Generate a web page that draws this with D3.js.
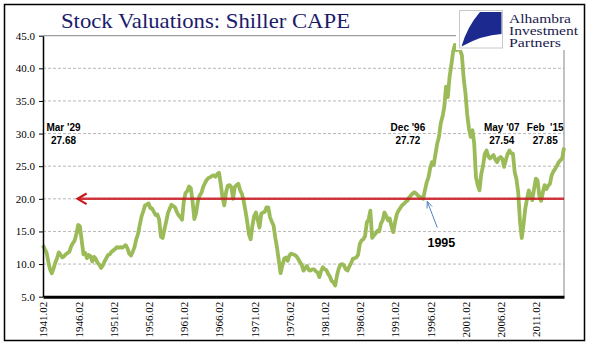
<!DOCTYPE html>
<html>
<head>
<meta charset="utf-8">
<script src="https://cdn.jsdelivr.net/npm/d3@7"></script>
<style>
  body { margin: 0; background: #fff; }
  svg { display: block; }
</style>
</head>
<body>
<svg id="chart"></svg>
<script>
const firstMonth = "1941.02";
const cape = [
  12.9, 12.3, 11.8, 10.4,  9.2, 8.6, 9.3, 10.2,  10.9, 11.8, 11.4, 11.0,  11.2, 11.5, 11.7, 11.9,
  12.7, 13.2, 13.6, 14.6,  16.0, 15.8, 13.6, 11.5,  11.7, 10.9, 11.4, 11.2,  10.4, 11.1, 10.8, 10.2,
  9.9, 9.4, 9.8, 10.4,  10.9, 11.4, 11.5, 11.9,  12.1, 12.3, 12.6, 12.5,  12.6, 12.5, 12.7, 12.9,
  12.4, 11.6, 11.3, 11.9,  12.6, 13.8, 14.6, 16.0,  17.3, 18.1, 19.0, 19.1,  19.3, 18.6, 18.5, 18.0,
  17.5, 17.6, 16.8, 14.2,  14.0, 15.3, 16.5, 17.8,  18.5, 19.1, 18.9, 18.7,  18.0, 17.5, 17.2, 16.8,
  19.6, 20.9, 21.2, 21.9,  21.6, 19.6, 16.9, 17.8,  19.6, 20.5, 20.9, 21.8,  22.4, 22.9, 23.2, 23.3,
  23.5, 23.6, 23.4, 23.8,  24.0, 22.3, 20.2, 19.0,  21.0, 22.0, 22.1, 21.8,  20.0, 21.8, 22.1, 22.3,
  21.3, 20.8, 19.7, 18.2,  16.5, 14.6, 13.8, 15.9,  17.4, 17.9, 16.8, 15.6,  17.7, 17.9, 18.0, 18.7,
  18.7, 17.2, 16.5, 15.9,  14.0, 12.5, 10.5, 8.6,  9.8, 10.8, 11.0, 10.5,  11.3, 11.6, 11.5, 11.4,
  11.2, 10.8, 10.3, 9.9,  9.0, 9.4, 9.7, 9.1,  9.0, 9.2, 9.2, 8.9,  8.7, 8.0, 8.9, 9.5,
  9.2, 9.1, 8.5, 8.1,  7.4, 7.2, 6.7, 8.2,  9.3, 9.9, 10.0, 9.8,  9.2, 9.0, 9.6, 10.1,
  10.8, 10.9, 11.0, 11.4,  13.1, 13.6, 13.8, 14.3,  16.4, 16.8, 18.2, 14.0,  14.4, 14.7, 15.1, 15.0,
  16.2, 16.7, 17.9, 17.4,  16.7, 17.0, 15.8, 14.9,  16.4, 17.6, 18.2, 18.6,  19.0, 19.2, 19.5, 19.7,
  20.2, 20.5, 20.8, 21.0,  20.8, 20.5, 20.3, 20.2,  20.0, 21.3, 22.5, 23.3,  24.7, 25.6, 25.2, 26.9,
  28.5, 29.5, 31.6, 32.6,  34.1, 37.2, 35.6, 38.7,  40.5, 42.5, 43.6, 42.8,  44.1, 42.8, 42.0, 38.5,
  36.2, 33.0, 30.8, 29.5,  30.5, 28.5, 23.3, 22.1,  21.3, 23.8, 25.0, 26.9,  27.4, 26.5, 26.2, 26.5,
  26.7, 26.0, 25.6, 26.2,  26.4, 26.1, 24.9, 26.0,  26.9, 27.4, 27.0, 26.9,  24.1, 23.0, 21.0, 16.5,
  14.0, 16.0, 18.5, 20.0,  21.3, 20.5, 19.8, 21.5,  23.1, 22.8, 20.5, 19.7,  21.0, 22.1, 21.5, 22.0,
  22.3, 23.6, 24.2, 24.6,  25.1, 25.6, 25.9, 26.2,  27.85
];

const tickLabels = ["1941.02", "1946.02", "1951.02", "1956.02", "1961.02", "1966.02", "1971.02",
                    "1976.02", "1981.02", "1986.02", "1991.02", "1996.02", "2001.02", "2006.02", "2011.02"];
const yTicks = [5, 10, 15, 20, 25, 30, 35, 40, 45];
const lastMonth = "2015.02";

// red reference level and where its arrow stops
const refLevel = 20;
const refArrowAt = "1946.01";

// peak notes: label, value, where the note sits
const peakNames = ["Mar '29", "Dec '96", "May '07", "Feb  '15"];
const peakValues = ["27.68", "27.72", "27.54", "27.85"];
const peakAt = ["1944.01", "1992.12", "2006.04", "2012.06"];
const peakLevel = 31;

// the 1995 callout
const calloutText = "1995";
const calloutAt = "1997.09", calloutLevel = 13.3;
const calloutTip = ["1995.09", 19.6];
const calloutTail = ["1997.02", 15.6];

const logoLines = ["Alhambra", "Investment", "Partners"];
const logoWidths = [62, 69, 52];

const toDate = s => { const [y, m] = s.split(".").map(Number); return new Date(y, m - 1, 1); };

const start = toDate(firstMonth);
const series = cape.map((v, i) => ({ date: d3.timeMonth.offset(start, i * 3), value: v }));

const W = 595, H = 361;
const svg = d3.select("#chart").attr("width", W).attr("height", H);

const x = d3.scaleTime().domain([start, toDate(lastMonth)]).range([43, 564]);
const y = d3.scaleLinear().domain([5, 45]).range([296.7, 35.7]);

// outer frame
svg.append("rect")
  .attr("x", 4.5).attr("y", 4.5).attr("width", 580).attr("height", 336)
  .attr("fill", "#fff").attr("stroke", "#000").attr("stroke-width", 1.5);

// gridlines
svg.append("g")
  .selectAll("line")
  .data(yTicks.filter(d => d > 5 && d < 45))
  .join("line")
    .attr("x1", x.range()[0]).attr("x2", x.range()[1])
    .attr("y1", d => y(d)).attr("y2", d => y(d))
    .attr("stroke", "#a6a6a6").attr("stroke-width", 0.8).attr("stroke-dasharray", "3,2");

// top and right plot edges
svg.append("path")
  .attr("d", `M${x.range()[0]},${y(45)}H${x.range()[1]}V${y(5)}`)
  .attr("fill", "none").attr("stroke", "#868686").attr("stroke-width", 1);

// CAPE line
const line = d3.line().x(d => x(d.date)).y(d => y(d.value));
svg.append("path")
  .datum(series)
  .attr("d", line)
  .attr("fill", "none")
  .attr("stroke", "#9bbb59")
  .attr("stroke-width", 3.8)
  .attr("stroke-linejoin", "round");

// red reference line with arrow head
const rx = x(toDate(refArrowAt)), ry = y(refLevel);
svg.append("line")
  .attr("x1", rx).attr("x2", x.range()[1]).attr("y1", ry).attr("y2", ry)
  .attr("stroke", "#c8161d").attr("stroke-width", 2.5).attr("stroke-opacity", 0.85);
svg.append("path")
  .attr("d", `M${rx + 9},${ry - 5.3}L${rx},${ry}L${rx + 9},${ry + 5.3}`)
  .attr("fill", "none").attr("stroke", "#c8161d").attr("stroke-width", 2.2);

// y axis
svg.append("g")
  .attr("transform", `translate(${x.range()[0]},0)`)
  .call(d3.axisLeft(y).tickValues(yTicks).tickFormat(d3.format(".1f")).tickSize(4).tickSizeOuter(0))
  .call(g => g.select(".domain").attr("stroke", "#000").attr("stroke-width", 1.5))
  .call(g => g.selectAll(".tick line").attr("stroke", "#000"))
  .call(g => g.selectAll("text")
    .attr("x", -8)
    .attr("font-family", "'Liberation Serif', serif")
    .attr("font-size", 11)
    .attr("fill", "#000"));

// x axis
svg.append("g")
  .attr("transform", `translate(0,${y(5)})`)
  .call(d3.axisBottom(x).tickValues(tickLabels.map(toDate)).tickFormat((d, i) => tickLabels[i]).tickSize(0))
  .call(g => g.select(".domain").attr("stroke", "#000").attr("stroke-width", 3))
  .call(g => g.selectAll("text")
    .attr("transform", "rotate(-90)")
    .attr("text-anchor", "end")
    .attr("x", -5).attr("y", 0).attr("dy", "0.35em")
    .attr("font-family", "'Liberation Serif', serif")
    .attr("font-size", 11)
    .attr("fill", "#000"));

// title
svg.append("text")
  .attr("x", 61).attr("y", 28)
  .attr("font-family", "'Liberation Serif', serif")
  .attr("font-size", 22)
  .attr("textLength", 289)
  .attr("lengthAdjust", "spacingAndGlyphs")
  .attr("fill", "#1b1b6b")
  .text("Stock Valuations: Shiller CAPE");

// logo
const logo = svg.append("g");
logo.append("rect").attr("x", 456).attr("y", 8).attr("width", 126).attr("height", 42).attr("fill", "#fff");
logo.append("rect").attr("x", 459.5).attr("y", 10.5).attr("width", 43).attr("height", 37.5)
  .attr("fill", "#fff").attr("stroke", "#c8c8c8").attr("stroke-width", 1);
logo.append("path")
  .attr("d", "M480,12 L501.5,12 L501.5,34 Q482,35 461.5,46.5 Q467,27 480,12 Z")
  .attr("fill", "#1c2a8f");
logo.append("g")
  .attr("font-family", "'Liberation Serif', serif")
  .attr("font-size", 12.5)
  .attr("fill", "#1a1a4e")
  .selectAll("text")
  .data(logoLines)
  .join("text")
    .attr("x", 509)
    .attr("y", (d, i) => 22.5 + i * 12)
    .attr("textLength", (d, i) => logoWidths[i])
    .attr("lengthAdjust", "spacingAndGlyphs")
    .text(d => d);

// peak notes
const notes = svg.append("g")
  .attr("font-family", "'Liberation Sans', Arial, sans-serif")
  .attr("font-weight", "bold")
  .attr("font-size", 10)
  .attr("fill", "#000")
  .attr("text-anchor", "middle");
peakNames.forEach((name, i) => {
  const cx = x(toDate(peakAt[i]));
  notes.append("text").attr("x", cx).attr("y", y(peakLevel)).attr("dy", "0.35em")
    .style("white-space", "pre").text(name);
  notes.append("text").attr("x", cx).attr("y", y(peakLevel) + 13.5).attr("dy", "0.35em")
    .text(peakValues[i]);
});

// 1995 callout
svg.append("text")
  .attr("x", x(toDate(calloutAt))).attr("y", y(calloutLevel)).attr("dy", "0.35em")
  .attr("text-anchor", "middle")
  .attr("font-family", "'Liberation Sans', Arial, sans-serif")
  .attr("font-weight", "bold").attr("font-size", 12.5)
  .text(calloutText);

const tx = x(toDate(calloutTip[0])), ty = y(calloutTip[1]);
const sx = x(toDate(calloutTail[0])), sy = y(calloutTail[1]);
const ang = Math.atan2(sy - ty, sx - tx);
const head = 7, spread = 0.4;
svg.append("path")
  .attr("d", `M${sx},${sy}L${tx},${ty}` +
    `M${tx + head * Math.cos(ang - spread)},${ty + head * Math.sin(ang - spread)}L${tx},${ty}` +
    `L${tx + head * Math.cos(ang + spread)},${ty + head * Math.sin(ang + spread)}`)
  .attr("fill", "none").attr("stroke", "#4f81bd").attr("stroke-width", 1);
</script>
</body>
</html>
